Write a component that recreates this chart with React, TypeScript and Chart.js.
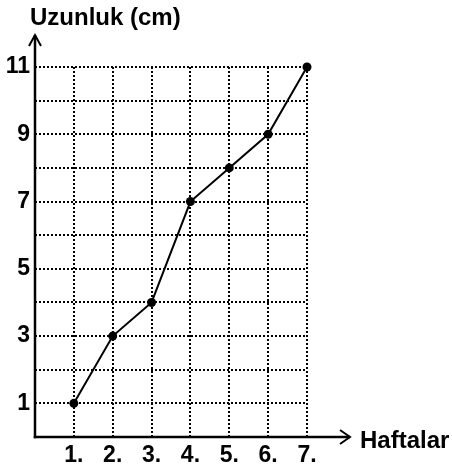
import React, { useEffect, useRef } from "react";
import { Chart, registerables } from "chart.js";

Chart.register(...registerables);

const weeks = [1, 2, 3, 4, 5, 6, 7];
const lengths = [1, 3, 4, 7, 8, 9, 11];
const yTitle = "Uzunluk (cm)";
const xTitle = "Haftalar";
const yLabelValues = [1, 3, 5, 7, 9, 11];

const FONT = "'Liberation Sans', Arial, sans-serif";

const axesPlugin = {
  id: "arrowAxes",
  beforeDatasetsDraw(chart: any) {
    const { ctx, chartArea } = chart;
    const { left, bottom, top, right } = chartArea;
    ctx.save();
    ctx.strokeStyle = "#000";
    ctx.lineCap = "butt";
    // y axis
    ctx.lineWidth = 2.5;
    ctx.beginPath();
    ctx.moveTo(left, bottom + 1.25);
    ctx.lineTo(left, top - 32);
    ctx.stroke();
    // x axis
    ctx.beginPath();
    ctx.moveTo(left - 1.25, bottom);
    ctx.lineTo(right + 43, bottom);
    ctx.stroke();
    // arrowheads
    ctx.lineWidth = 2;
    ctx.lineJoin = "miter";
    ctx.beginPath();
    ctx.moveTo(left - 6, top - 21);
    ctx.lineTo(left, top - 32);
    ctx.lineTo(left + 6, top - 21);
    ctx.stroke();
    ctx.beginPath();
    ctx.moveTo(right + 33, bottom - 7);
    ctx.lineTo(right + 43, bottom);
    ctx.lineTo(right + 33, bottom + 7);
    ctx.stroke();
    // titles
    ctx.fillStyle = "#000";
    ctx.font = `bold 24px ${FONT}`;
    ctx.textAlign = "left";
    ctx.textBaseline = "middle";
    ctx.fillText(yTitle, left - 5, 18);
    ctx.fillText(xTitle, right + 53, bottom + 4);
    ctx.restore();
  },
};

export default function App() {
  const ref = useRef<HTMLCanvasElement>(null);
  useEffect(() => {
    if (!ref.current) return;
    const points = weeks.map((w, i) => ({ x: w, y: lengths[i] }));
    const gridColor = (c: any) =>
      c.tick && c.tick.value === 0 ? "rgba(0,0,0,0)" : "#000";
    const chart = new Chart(ref.current, {
      type: "line",
      data: {
        datasets: [
          {
            data: points,
            borderColor: "#000",
            backgroundColor: "#000",
            borderWidth: 2,
            pointRadius: 4.5,
            pointBackgroundColor: "#000",
            pointBorderWidth: 0,
            tension: 0,
            clip: false,
          },
        ],
      },
      options: {
        animation: false,
        responsive: false,
        layout: { padding: { top: 67, right: 145, left: 0, bottom: 0 } },
        plugins: { legend: { display: false }, tooltip: { enabled: false } },
        scales: {
          x: {
            type: "linear",
            min: 0,
            max: 7,
            afterFit: (s: any) => {
              s.height = 31;
            },
            ticks: {
              stepSize: 1,
              autoSkip: false,
              maxRotation: 0,
              padding: 5,
              color: "#000",
              font: { family: FONT, size: 23, weight: "bold" },
              callback: (v: any) => (weeks.includes(v) ? v + "." : ""),
            },
            grid: { color: gridColor, lineWidth: 2, drawTicks: false },
            border: { display: false, dash: [2, 2] },
          },
          y: {
            type: "linear",
            min: 0,
            max: 11,
            afterFit: (s: any) => {
              s.width = 35;
            },
            ticks: {
              stepSize: 1,
              autoSkip: false,
              padding: 5,
              color: "#000",
              font: { family: FONT, size: 23, weight: "bold" },
              callback: (v: any) => (yLabelValues.includes(v) ? String(v) : ""),
            },
            grid: { color: gridColor, lineWidth: 2, drawTicks: false },
            border: { display: false, dash: [2, 2] },
          },
        },
      },
      plugins: [axesPlugin],
    });
    return () => chart.destroy();
  }, []);
  return (
    <div style={{ position: "fixed", left: 0, top: 0, width: 452, height: 468, background: "#fff" }}>
      <canvas ref={ref} width={452} height={468} style={{ display: "block" }} />
    </div>
  );
}
